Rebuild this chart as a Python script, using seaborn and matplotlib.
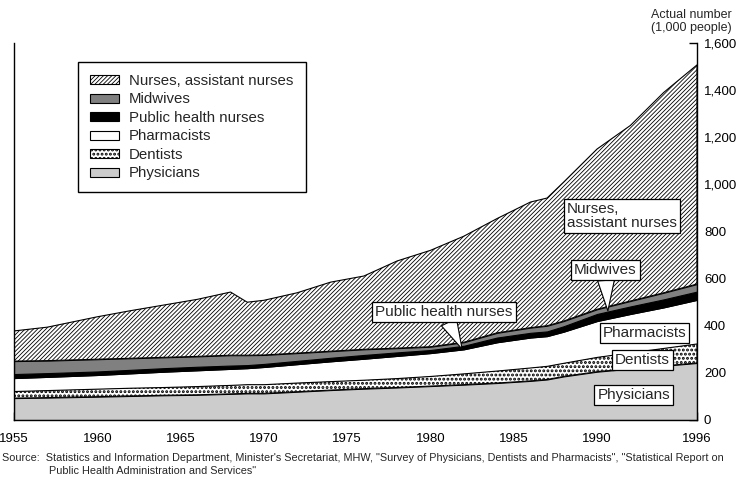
import numpy as np
import matplotlib
matplotlib.use("Agg")
import matplotlib.pyplot as plt
from matplotlib.patches import Patch
import seaborn as sns

# valores (miles de personas)
years = [1955, 1957, 1960, 1962, 1964, 1966, 1968, 1969, 1970, 1972, 1974, 1976,
         1978, 1980, 1982, 1984, 1986, 1987, 1988, 1990, 1992, 1994, 1996]
physicians = [93, 95, 99, 102, 105, 107, 111, 113, 113, 120, 127, 133,
              138, 144, 150, 157, 166, 172, 185, 205, 218, 230, 242]
dentists = [30, 32, 34, 35, 35, 37, 38, 39, 39, 39, 38, 38,
            40, 43, 48, 53, 57, 58, 58, 63, 69, 76, 83]
pharmacists = [55, 56, 58, 61, 65, 67, 68, 68, 73, 78, 84, 89,
               94, 97, 102, 120, 127, 126, 132, 152, 163, 172, 185]
public_health_nurses = [17, 16, 15, 15, 15, 15, 14, 13, 13, 14, 15, 16,
                        15, 13, 15, 20, 20, 20, 23, 30, 32, 34, 35]
midwives = [55, 53, 52, 49, 46, 44, 44, 42, 38, 33, 28, 24,
            18, 14, 15, 20, 22, 24, 22, 20, 23, 28, 32]
nurses = [128, 142, 180, 202, 222, 242, 268, 225, 232, 256, 293, 311,
          370, 409, 450, 485, 533, 542, 590, 680, 745, 850, 930]

labels = ["Physicians", "Dentists", "Pharmacists", "Public health nurses",
          "Midwives", "Nurses, assistant nurses"]
colors = ["#cccccc", "white", "white", "black", "#808080", "white"]
hatches = [None, "....", None, None, None, "////////"]
hatch_lw = [1.0, 1.4, 1.0, 1.0, 1.0, 0.6]

xticks = [1955, 1960, 1965, 1970, 1975, 1980, 1985, 1990, 1996]
yticks = [0, 200, 400, 600, 800, 1000, 1200, 1400, 1600]

sns.set_theme(style="white")
plt.rcParams["font.family"] = ["Liberation Sans", "DejaVu Sans"]
plt.rcParams["hatch.linewidth"] = 0.6

fig = plt.figure(figsize=(7.38, 4.78), dpi=100)
ax = fig.add_axes([14 / 738, 1 - 420 / 478, 683 / 738, 377 / 478])

layers = ax.stackplot(years, physicians, dentists, pharmacists, public_health_nurses,
                      midwives, nurses, colors=colors, edgecolor="black", linewidth=0.8)
for poly, h, hl in zip(layers, hatches, hatch_lw):
    if h:
        poly.set_hatch(h)
        if hasattr(poly, "set_hatch_linewidth"):
            poly.set_hatch_linewidth(hl)
        else:
            poly._hatch_linewidth = hl

ax.set_xlim(1955, 1996)
ax.set_ylim(0, 1600)
ax.set_xticks(xticks)
ax.set_xticklabels([str(y) for y in xticks], fontsize=9.5)
ax.set_yticks(yticks)
ax.set_yticklabels([f"{v:,}" for v in yticks], fontsize=9.5)
ax.yaxis.tick_right()
ax.tick_params(axis="x", direction="in", length=6, width=1, pad=9, colors="black", bottom=True)
ax.tick_params(axis="y", direction="in", length=6, width=1, pad=5, colors="black", right=True)
ax.grid(False)
sns.despine(ax=ax, top=True, right=False, left=False)
for s in ["left", "right", "bottom"]:
    ax.spines[s].set_color("black")
    ax.spines[s].set_linewidth(1)

# leyenda
handles = []
for lab, c, h, hl in list(zip(labels, colors, hatches, hatch_lw))[::-1]:
    p = Patch(facecolor=c, edgecolor="black", hatch=h, linewidth=0.8, label=lab)
    handles.append(p)
leg = ax.legend(handles=handles, loc="upper left", bbox_to_anchor=(0.094, 0.95),
                borderaxespad=0, fontsize=10.8, frameon=True, fancybox=False,
                edgecolor="black", framealpha=1, handlelength=1.9, handleheight=0.55,
                handletextpad=0.7, labelspacing=0.3, borderpad=0.8)
leg.get_frame().set_linewidth(1)
for p, hl in zip(leg.get_patches(), hatch_lw[::-1]):
    if hasattr(p, "set_hatch_linewidth"):
        p.set_hatch_linewidth(hl)
    else:
        p._hatch_linewidth = hl

fs = 11
box = dict(boxstyle="square,pad=0.2", fc="white", ec="black", lw=0.9)
wedge = dict(arrowstyle="wedge,tail_width=1.1,shrink_factor=0.5",
             fc="white", ec="black", lw=0.8, shrinkA=0, shrinkB=0)
ax.text(1988.2, 864, "Nurses,\nassistant nurses", fontsize=fs, ha="left", va="center",
        bbox=box, linespacing=1.0)
ax.annotate("Midwives", xy=(1990.65, 463), xytext=(1990.5, 637), fontsize=fs,
            ha="center", va="center", bbox=box, arrowprops=wedge)
ax.annotate("Public health nurses", xy=(1981.9, 301), xytext=(1980.8, 460), fontsize=fs,
            ha="center", va="center", bbox=box, arrowprops=wedge)
ax.text(1992.85, 369, "Pharmacists", fontsize=fs, ha="center", va="center", bbox=box)
ax.text(1992.7, 253, "Dentists", fontsize=fs, ha="center", va="center", bbox=box)
ax.text(1992.2, 106, "Physicians", fontsize=fs, ha="center", va="center", bbox=box)

fig.text(651 / 738, 1 - 15 / 478, "Actual number", fontsize=9, ha="left", va="center")
fig.text(651 / 738, 1 - 28 / 478, "(1,000 people)", fontsize=9, ha="left", va="center")

fig.text(2 / 738, 1 - 458 / 478,
         "Source:  Statistics and Information Department, Minister's Secretariat, MHW, "
         "\"Survey of Physicians, Dentists and Pharmacists\", \"Statistical Report on",
         fontsize=7.8, ha="left", va="center")
fig.text(49 / 738, 1 - 471 / 478, "Public Health Administration and Services\"",
         fontsize=7.8, ha="left", va="center")

fig.savefig("out.png", dpi=100)
